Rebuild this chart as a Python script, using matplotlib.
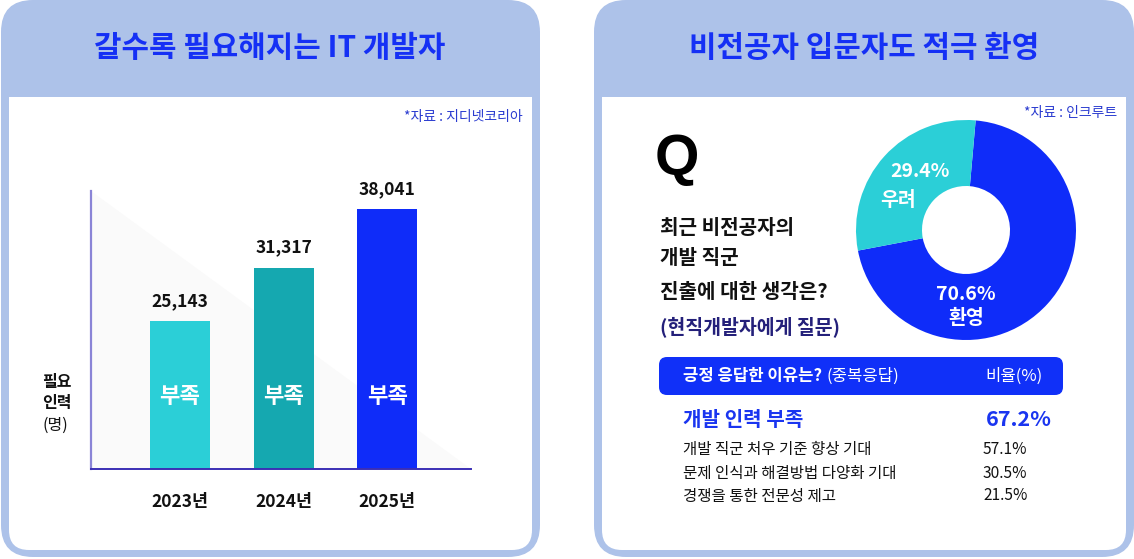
import matplotlib
matplotlib.use("Agg")
import matplotlib.pyplot as plt
from matplotlib.patches import FancyBboxPatch, Rectangle, Polygon

plt.rcParams["font.family"] = ["Noto Sans CJK KR", "DejaVu Sans"]

# ---- data ----
years = ["2023년", "2024년", "2025년"]
needed = [25143, 31317, 38041]
bar_colors = ["#2bcfd7", "#15a8b0", "#0f2cf9"]
bar_tag = "부족"

pie_labels = ["환영", "우려"]
pie_values = [70.6, 29.4]
pie_colors = ["#0f2cf9", "#2bcfd7"]

reason_top = ("개발 인력 부족", 67.2)
reasons = ["개발 직군 처우 기준 향상 기대", "문제 인식과 해결방법 다양화 기대", "경쟁을 통한 전문성 제고"]
reason_pct = [57.1, 30.5, 21.5]

W, H = 1134, 559
PANEL = "#adc2e9"
BLUE = "#1530f5"

fig = plt.figure(figsize=(W / 100, H / 100), dpi=100, facecolor="white")


def box(x0, y0, x1, y1):
    # pixel box (top-left origin) -> figure fraction rect
    return [x0 / W, (H - y1) / H, (x1 - x0) / W, (y1 - y0) / H]


bg = fig.add_axes([0, 0, 1, 1])
bg.set_xlim(0, W)
bg.set_ylim(H, 0)
bg.axis("off")


def panel(x0, x1):
    bg.add_patch(FancyBboxPatch((x0 + 32, 32), x1 - x0 - 64, H - 2 - 64,
                                boxstyle="round,pad=32", fc=PANEL, ec="none"))
    bg.add_patch(FancyBboxPatch((x0 + 8 + 20, 97 + 20), x1 - x0 - 16 - 40, 550 - 97 - 40,
                                boxstyle="round,pad=20", fc="white", ec="none"))
    bg.add_patch(Rectangle((x0 + 8, 97), x1 - x0 - 16, 40, fc="white", ec="none"))


panel(1, 540)
panel(594, 1134)

bg.text(270, 48, "갈수록 필요해지는 IT 개발자", ha="center", va="center",
        fontsize=21.5, fontweight="bold", color=BLUE)
bg.text(864, 48, "비전공자 입문자도 적극 환영", ha="center", va="center",
        fontsize=21.5, fontweight="bold", color=BLUE)
bg.text(523, 117, "*자료 : 지디넷코리아", ha="right", va="center", fontsize=10, color="#2a3bd0")
bg.text(1117, 113, "*자료 : 인크루트", ha="right", va="center", fontsize=10, color="#2a3bd0")

# y label of the bar chart
bg.text(42, 382, "필요", ha="left", va="center", fontsize=11.5, fontweight="bold", color="#111111")
bg.text(42, 403, "인력", ha="left", va="center", fontsize=11.5, fontweight="bold", color="#111111")
bg.text(42, 425, "(명)", ha="left", va="center", fontsize=11.5, color="#111111")

# ---- bar chart ----
ax = fig.add_axes(box(91, 191, 471, 469))
ax.patch.set_alpha(0)
ax.add_patch(Polygon([(0, 1), (0, 0), (1, 0)], closed=True, transform=ax.transAxes,
                     fc="#fafafa", ec="none", zorder=0))
pos = list(range(len(years)))
ax.bar(pos, needed, width=0.58, color=bar_colors, zorder=2)
ax.set_xlim(-0.86, 2.81)
ax.set_ylim(8180, 40116)
ax.set_xticks([])
ax.set_yticks([])
for s in ("top", "right"):
    ax.spines[s].set_visible(False)
ax.spines["left"].set_color("#8a84d6")
ax.spines["left"].set_linewidth(1.6)
ax.spines["bottom"].set_color("#3b2fb5")
ax.spines["bottom"].set_linewidth(1.4)
for i, v in enumerate(needed):
    ax.annotate(f"{v:,}", xy=(i, v), xytext=(0, 14.5), textcoords="offset points",
                ha="center", va="center", fontsize=12.5, fontweight="bold", color="#111111")
    ax.annotate(bar_tag, xy=(i, 0), xycoords=("data", "axes fraction"), xytext=(0, 52.5),
                textcoords="offset points", ha="center", va="center",
                fontsize=16, fontweight="bold", color="white", zorder=3)
    ax.annotate(years[i], xy=(i, 0), xycoords=("data", "axes fraction"), xytext=(0, -24),
                textcoords="offset points", ha="center", va="center",
                fontsize=12.5, fontweight="bold", color="#111111", annotation_clip=False)

# ---- question text ----
bg.text(655, 160, "Q", ha="left", va="center", fontsize=41, fontweight="bold",
        family=["Liberation Sans", "DejaVu Sans"], color="#000000")
for y, line in zip([227, 258, 291], ["최근 비전공자의", "개발 직군", "진출에 대한 생각은?"]):
    bg.text(660, y, line, ha="left", va="center", fontsize=14.5, fontweight="bold", color="#111111")
bg.text(660, 327, "(현직개발자에게 질문)", ha="left", va="center", fontsize=14,
        fontweight="bold", color="#24207a")

# ---- donut ----
pax = fig.add_axes(box(856, 120, 1076, 340))
pax.pie(pie_values, colors=pie_colors, startangle=190.8, counterclock=True,
        radius=1, wedgeprops=dict(width=0.6, edgecolor="none"))
pax.set_xlim(-1, 1)
pax.set_ylim(-1, 1)
pax.set_aspect("equal")
pax.axis("off")
pax.text(-0.42, 0.53, f"{pie_values[1]}%", ha="center", va="center", fontsize=14,
         fontweight="bold", color="white")
pax.text(-0.62, 0.27, pie_labels[1], ha="center", va="center", fontsize=14,
         fontweight="bold", color="white")
pax.text(0.0, -0.59, f"{pie_values[0]}%", ha="center", va="center", fontsize=14,
         fontweight="bold", color="white")
pax.text(0.0, -0.80, pie_labels[0], ha="center", va="center", fontsize=14,
         fontweight="bold", color="white")

# ---- reasons table ----
bg.add_patch(FancyBboxPatch((659 + 8, 357 + 8), 404 - 16, 38 - 16,
                            boxstyle="round,pad=8", fc="#1030f8", ec="none"))
t = bg.text(683, 376, "긍정 응답한 이유는?", ha="left", va="center", fontsize=12,
            fontweight="bold", color="white")
bg.annotate("(중복응답)", xy=(1, 0.5), xycoords=t, xytext=(3, 0), textcoords="offset points",
            ha="left", va="center", fontsize=12, color="white")
bg.text(985, 376, "비율(%)", ha="left", va="center", fontsize=12, color="white")

bg.text(683, 420, reason_top[0], ha="left", va="center", fontsize=14.5,
        fontweight="bold", color="#1a35f0")
bg.text(1052, 420, f"{reason_top[1]}%", ha="right", va="center", fontsize=15.5,
        fontweight="bold", color="#1a35f0")
for y, name, p in zip([449, 473, 496], reasons, reason_pct):
    bg.text(683, y, name, ha="left", va="center", fontsize=11.2, color="#111111")
    bg.text(983, y, f"{p}%", ha="left", va="center", fontsize=11.2, color="#111111")

fig.savefig("out.png", dpi=100, facecolor="white")
